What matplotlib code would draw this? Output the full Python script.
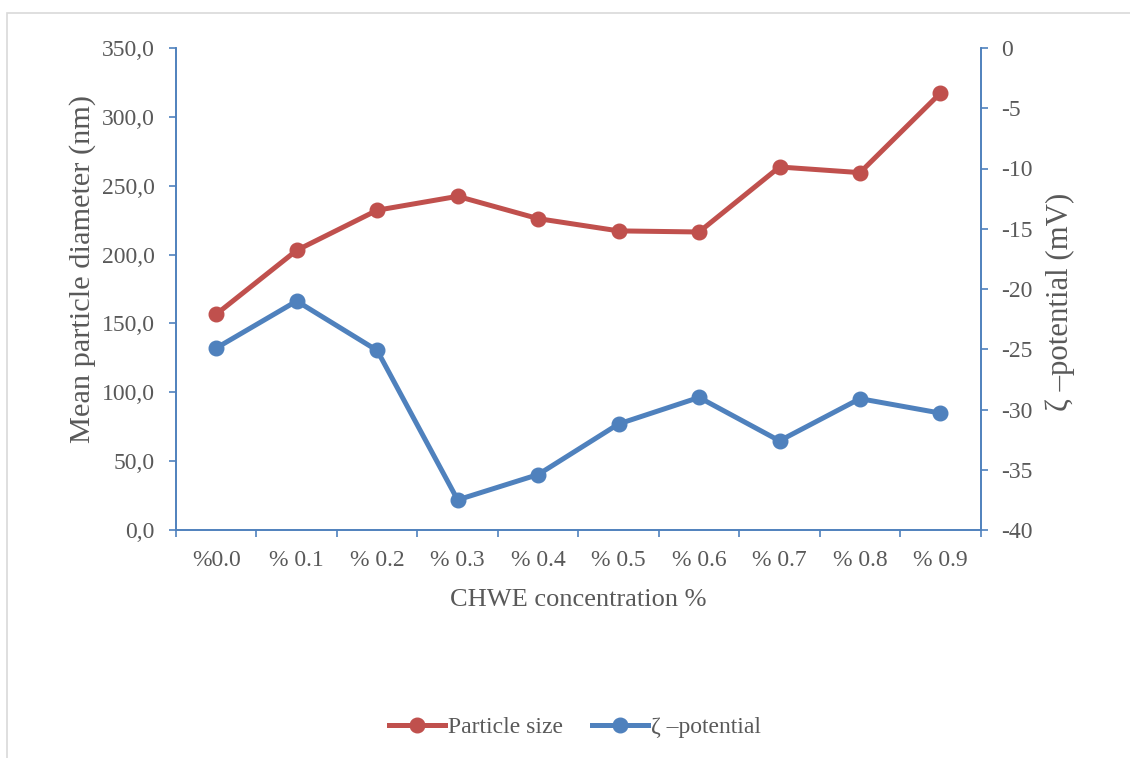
import matplotlib
matplotlib.use("Agg")
import matplotlib.pyplot as plt
from matplotlib.patches import Rectangle
from matplotlib.ticker import FixedLocator

categories = ["%0.0", "% 0.1", "% 0.2", "% 0.3", "% 0.4", "% 0.5", "% 0.6", "% 0.7", "% 0.8", "% 0.9"]
particle_size = [156.7, 203.1, 232.2, 242.3, 226.1, 217.2, 216.4, 263.6, 259.5, 317.3]
zeta_potential = [-24.9, -21.0, -25.1, -37.5, -35.4, -31.2, -29.0, -32.6, -29.1, -30.3]
left_ticks = [0, 50, 100, 150, 200, 250, 300, 350]
right_ticks = [-40, -35, -30, -25, -20, -15, -10, -5, 0]

RED = "#C0504D"
BLUE = "#4F81BD"
TXT = "#595959"
FS = 17
FS_X = 19
FS_Y = 21.9
FS_Y2 = 22.2

plt.rcParams['font.family'] = ['Liberation Serif', 'DejaVu Serif']

fig = plt.figure(figsize=(11.3, 7.58), dpi=100)
ax = fig.add_axes([176/1130, 1-530/758, (980.7-176)/1130, (530-48)/758])
ax2 = ax.twinx()

x = list(range(len(categories)))
l1, = ax.plot(x, particle_size, color=RED, lw=3.6, marker='o', ms=10.5, label="Particle size", zorder=3)
l2, = ax2.plot(x, zeta_potential, color=BLUE, lw=3.6, marker='o', ms=10.5, label="ζ –potential", zorder=3)

ax.set_xlim(-0.5, len(categories)-0.5)
ax.set_ylim(0, 350)
ax2.set_ylim(-40, 0)

ax.set_yticks(left_ticks)
ax.set_yticklabels([f"{v:.1f}".replace('.', ',') for v in left_ticks])
ax2.set_yticks(right_ticks)
ax2.set_yticklabels([str(v) for v in right_ticks])

ax.xaxis.set_major_locator(FixedLocator([i - 0.5 for i in range(len(categories)+1)]))
ax.xaxis.set_major_formatter(plt.NullFormatter())
ax.xaxis.set_minor_locator(FixedLocator(x))
ax.set_xticklabels(categories, minor=True)

for a in (ax, ax2):
    for s in a.spines.values():
        s.set_color(BLUE)
        s.set_linewidth(1.2)
    a.spines['top'].set_visible(False)

ax.tick_params(axis='x', which='major', direction='out', length=5, width=1.2, color=BLUE)
ax.tick_params(axis='x', which='minor', length=0, pad=14.5, labelsize=FS, labelcolor=TXT)
ax.tick_params(axis='y', direction='out', length=5, width=1.2, color=BLUE, pad=10.5, labelsize=FS, labelcolor=TXT)
ax2.tick_params(axis='y', direction='out', length=5, width=1.2, color=BLUE, pad=10, labelsize=FS, labelcolor=TXT)

ax.set_ylabel("Mean particle diameter (nm)", fontsize=FS_Y, color=TXT)
ax.yaxis.set_label_coords((96-176)/804.7, (530-269)/482)
ax2.set_ylabel("ζ –potential (mV)", fontsize=FS_Y2, color=TXT)
ax2.yaxis.set_label_coords((1045-176)/804.7, (530-301.5)/482)
ax.set_xlabel("CHWE concentration %", fontsize=FS_X, color=TXT)
ax.xaxis.set_label_coords(0.5, (530-589)/482)

fig.legend(handles=[l1, l2], loc='center', bbox_to_anchor=(575/1130, 1-727/758), ncol=2,
           frameon=False, fontsize=FS, labelcolor=TXT, handlelength=2.35, handletextpad=0.12,
           columnspacing=1.25)

fig.patches.append(Rectangle((7/1130, -0.1), 1.2, 1.1 - 13/758, transform=fig.transFigure,
                             facecolor='none', edgecolor='#D9D9D9', lw=1.2))

fig.savefig("out.png", dpi=100)
